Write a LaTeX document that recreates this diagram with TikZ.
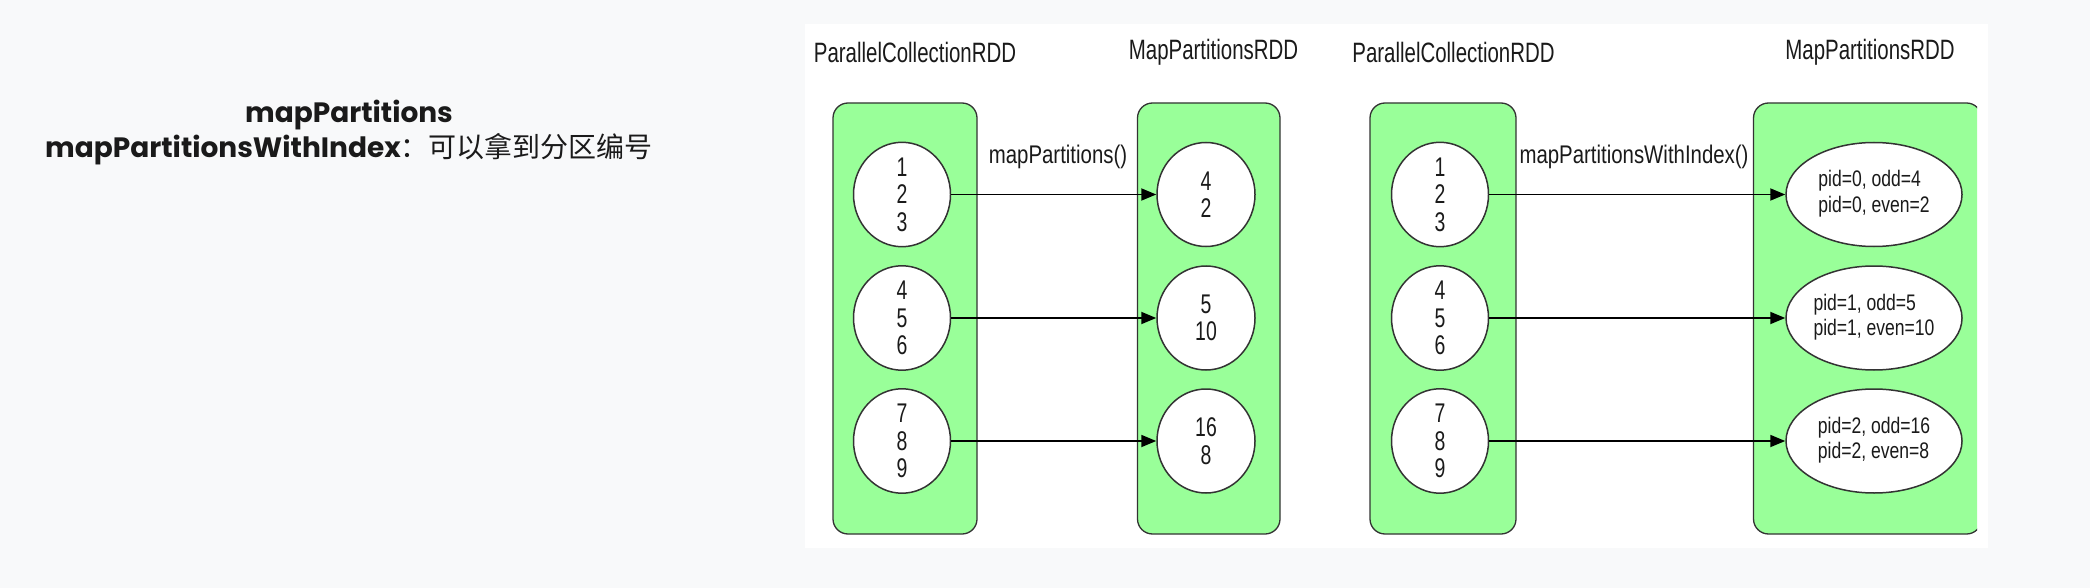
\documentclass[tikz,border=0pt]{standalone}
\usepackage{fontspec}
\usetikzlibrary{shapes.geometric,arrows.meta}
\newfontfamily\fhead[FakeStretch=0.73]{Liberation Sans}
\newfontfamily\flab[FakeStretch=0.8]{Liberation Sans}
\newfontfamily\fdig[FakeStretch=0.72]{Liberation Sans}
\newfontfamily\fpid[FakeStretch=0.78]{Liberation Sans}
\newfontfamily\ftitle{Poppins}
\newfontfamily\fcjk{Noto Sans CJK SC}
\definecolor{bgc}{HTML}{F8F9FA}
\definecolor{grn}{HTML}{99FF99}
\definecolor{lne}{HTML}{333333}
\definecolor{ink}{HTML}{1A1A1A}
\newcommand{\pidtext}[2]{\begin{tabular}{@{}l@{}}#1\\#2\end{tabular}}
\begin{document}
\begin{tikzpicture}[x=1pt,y=-1pt,
  box/.style={draw=lne, line width=1.3pt, fill=grn, rounded corners=15pt, rectangle, inner sep=0pt, minimum height=431pt},
  part/.style={ellipse, draw=lne, line width=1.5pt, fill=white, inner sep=0pt, minimum width=97pt, minimum height=104pt, text=ink, align=center, font=\fdig\fontsize{27}{27.5}\selectfont},
  pidpart/.style={ellipse, draw=lne, line width=1.5pt, fill=white, inner sep=0pt, minimum width=176pt, minimum height=104pt, text=ink, font=\fpid\fontsize{22.5}{25}\selectfont},
  head/.style={text=ink, inner sep=0pt, font=\fhead\fontsize{28}{28}\selectfont},
  lab/.style={text=ink, inner sep=0pt, font=\flab\fontsize{25.5}{26}\selectfont},
  arr/.style={draw=black, line width=1.8pt, -{Triangle[length=15pt,width=12pt]}},
]
\fill[bgc] (0,0) rectangle (2090,588);
\useasboundingbox (0,0) rectangle (2090,588);
\fill[white] (805,24) rectangle (1988,548);

% title
\node[text=ink, align=center, inner sep=0pt, font=\ftitle\bfseries\fontsize{28}{35}\selectfont] (title) at (349,133)
  {mapPartitions\\mapPartitionsWithIndex{\fcjk\mdseries ：可以拿到分区编号}};

% headers
\node[head] (h1) at (915,52) {ParallelCollectionRDD};
\node[head] (h2) at (1213.5,52) {MapPartitionsRDD};
\node[head] (h3) at (1453.5,52) {ParallelCollectionRDD};
\node[head] (h4) at (1870,52) {MapPartitionsRDD};

% boxes
\node[box, minimum width=144pt] (bA) at (905,318.5) {};
\node[box, minimum width=142.5pt] (bB) at (1208.75,318.5) {};
\node[box, minimum width=146pt] (bC) at (1443,318.5) {};
\begin{scope}
  \clip (1700,0) rectangle (1977,588);
  \node[box, minimum width=228pt] (bD) at (1867.5,318.5) {};
\end{scope}

% left diagram partitions
\node[part] (a1) at (902,194.5) {1\\2\\3};
\node[part] (a2) at (902,318) {4\\5\\6};
\node[part] (a3) at (902,441) {7\\8\\9};
\node[part, minimum width=98pt] (b1) at (1206,194.5) {4\\2};
\node[part, minimum width=98pt] (b2) at (1206,318) {5\\10};
\node[part, minimum width=98pt] (b3) at (1206,441) {16\\8};

% right diagram partitions
\node[part] (c1) at (1440,194.5) {1\\2\\3};
\node[part] (c2) at (1440,318) {4\\5\\6};
\node[part] (c3) at (1440,441) {7\\8\\9};
\node[pidpart] (d1) at (1874,194.5) {\pidtext{pid=0, odd=4}{pid=0, even=2}};
\node[pidpart] (d2) at (1874,318) {\pidtext{pid=1, odd=5}{pid=1, even=10}};
\node[pidpart] (d3) at (1874,441) {\pidtext{pid=2, odd=16}{pid=2, even=8}};

% arrows
\draw[arr] (a1.east) -- (b1.west);
\draw[arr] (a2.east) -- (b2.west);
\draw[arr] (a3.east) -- (b3.west);
\draw[arr] (c1.east) -- (d1.west);
\draw[arr] (c2.east) -- (d2.west);
\draw[arr] (c3.east) -- (d3.west);

% operation labels
\node[lab] (l1) at (1058,157) {mapPartitions()};
\node[lab] (l2) at (1634,157) {mapPartitionsWithIndex()};
\end{tikzpicture}
\end{document}
